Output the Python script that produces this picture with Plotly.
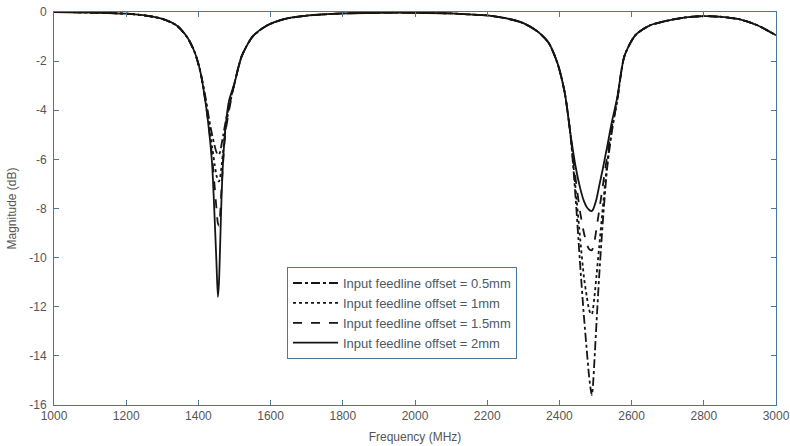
import plotly.graph_objects as go

freq_mhz = [1000, 1100, 1200, 1260, 1300, 1340, 1370, 1390, 1405,
            1420, 1430, 1438, 1445, 1450, 1454, 1457, 1460, 1464, 1469, 1475, 1485,
            1500, 1520, 1550, 1590, 1640, 1700, 1800, 1900, 2000, 2100, 2150, 2200,
            2250, 2300, 2340, 2370, 2395, 2415, 2430,
            2445, 2458, 2468, 2476, 2482, 2487, 2490, 2493, 2497, 2503, 2510, 2520,
            2532, 2545, 2560,
            2580, 2610, 2650, 2700, 2750, 2800, 2850, 2900, 2950, 3000]

offset_05mm = [0, -0.02, -0.07, -0.16, -0.28, -0.55, -1.05, -1.65, -2.4,
               -3.5, -4.4, -5.0, -5.45, -5.7, -5.8, -5.8, -5.7, -5.4, -5.0, -4.5, -3.8,
               -2.9, -1.8, -1.0, -0.55, -0.28, -0.15, -0.06, -0.03, -0.03, -0.06, -0.1, -0.14,
               -0.25, -0.45, -0.8, -1.25, -2.1, -3.3, -4.9,
               -7.6, -10.4, -12.4, -13.8, -14.8, -15.4, -15.6, -15.2, -14.2, -12.6, -10.8, -8.6,
               -6.4, -4.9, -3.6,
               -1.8, -0.95, -0.55, -0.35, -0.22, -0.17, -0.2, -0.3, -0.55, -0.95]

offset_1mm = [0, -0.02, -0.07, -0.16, -0.28, -0.55, -1.05, -1.65, -2.4,
              -3.6, -4.6, -5.5, -6.2, -6.65, -6.85, -6.9, -6.75, -6.3, -5.6, -4.8, -3.9,
              -2.9, -1.8, -1.0, -0.55, -0.28, -0.15, -0.06, -0.03, -0.03, -0.06, -0.1, -0.14,
              -0.25, -0.45, -0.8, -1.25, -2.1, -3.3, -4.9,
              -7.2, -9.3, -10.8, -11.6, -12.1, -12.3, -12.3, -12.1, -11.6, -10.7, -9.6, -8.0,
              -6.2, -4.8, -3.6,
              -1.8, -0.95, -0.55, -0.35, -0.22, -0.17, -0.2, -0.3, -0.55, -0.95]

offset_15mm = [0, -0.02, -0.07, -0.16, -0.28, -0.55, -1.05, -1.65, -2.4,
               -3.7, -4.8, -5.9, -7.1, -8.0, -8.6, -8.7, -8.3, -7.2, -6.0, -4.9, -4.0,
               -2.9, -1.8, -1.0, -0.55, -0.28, -0.15, -0.06, -0.03, -0.03, -0.06, -0.1, -0.14,
               -0.25, -0.45, -0.8, -1.25, -2.1, -3.3, -4.9,
               -6.8, -8.2, -9.0, -9.45, -9.65, -9.7, -9.7, -9.6, -9.35, -8.8, -8.1, -7.1,
               -5.9, -4.7, -3.6,
               -1.8, -0.95, -0.55, -0.35, -0.22, -0.17, -0.2, -0.3, -0.55, -0.95]

offset_2mm = [0, -0.02, -0.07, -0.16, -0.28, -0.55, -1.05, -1.65, -2.4,
              -3.7, -4.9, -6.2, -8.4, -10.2, -11.6, -11.0, -9.6, -7.6, -5.9, -4.7, -3.6,
              -2.9, -1.8, -1.0, -0.55, -0.28, -0.15, -0.06, -0.03, -0.03, -0.06, -0.1, -0.14,
              -0.25, -0.45, -0.8, -1.25, -2.1, -3.3, -4.9,
              -6.3, -7.2, -7.7, -7.95, -8.05, -8.1, -8.1, -8.05, -7.9, -7.6, -7.1, -6.4,
              -5.5, -4.5, -3.5,
              -1.8, -0.95, -0.55, -0.35, -0.22, -0.17, -0.2, -0.3, -0.55, -0.95]

series_names = ["Input feedline offset = 0.5mm", "Input feedline offset = 1mm",
                "Input feedline offset = 1.5mm", "Input feedline offset = 2mm"]
series_values = [offset_05mm, offset_1mm, offset_15mm, offset_2mm]
dash_styles = ["dashdot", "dot", "dash", "solid"]

x_ticks = [1000, 1200, 1400, 1600, 1800, 2000, 2200, 2400, 2600, 2800, 3000]
y_ticks = [0, -2, -4, -6, -8, -10, -12, -14, -16]

fig = go.Figure()
for name, vals, dash in zip(series_names, series_values, dash_styles):
    fig.add_trace(go.Scatter(
        x=freq_mhz, y=vals, mode="lines", name=name,
        line=dict(color="#151515", width=1.8, dash=dash, shape="spline", smoothing=0.7),
    ))

axis_color = "#4a7898"
tick_font = dict(family="Liberation Sans Narrow, Liberation Sans, Arial, sans-serif",
                 size=12, color="#555555")
title_font = dict(family="Liberation Sans Narrow, Liberation Sans, Arial, sans-serif",
                  size=12, color="#555555")

fig.update_layout(
    width=790, height=446,
    margin=dict(l=54, r=14, t=12, b=41),
    paper_bgcolor="white", plot_bgcolor="white",
    font=dict(family="Liberation Sans, Arial, sans-serif", size=11, color="#555555"),
    showlegend=True,
    legend=dict(
        x=0.3227, y=0.351, xanchor="left", yanchor="top",
        bgcolor="white", bordercolor=axis_color, borderwidth=1,
        font=dict(family="Liberation Sans, Arial, sans-serif", size=13, color="#4a5a66"),
        tracegroupgap=0, itemwidth=45,
    ),
    xaxis=dict(
        range=[1000, 3000], tickvals=x_ticks, ticktext=[str(v) for v in x_ticks],
        showgrid=False, zeroline=False, showline=True, linecolor=axis_color, linewidth=1,
        mirror="ticks", ticks="inside", ticklen=5, tickcolor=axis_color,
        tickfont=tick_font, automargin=False, ticklabelstandoff=0,
        title=dict(text="Frequency (MHz)", standoff=10, font=title_font),
    ),
    yaxis=dict(
        range=[-16, 0], tickvals=y_ticks, ticktext=[str(v) for v in y_ticks],
        showgrid=False, zeroline=False, showline=True, linecolor=axis_color, linewidth=1,
        mirror="ticks", ticks="inside", ticklen=5, tickcolor=axis_color,
        tickfont=tick_font, automargin=False, ticklabelstandoff=4,
        title=dict(text="Magnitude (dB)", standoff=10, font=title_font),
    ),
)

fig.write_html(
    "out.html",
    config={"displayModeBar": False},
    post_script="document.body.style.margin='0px';document.body.style.overflow='hidden';",
)
